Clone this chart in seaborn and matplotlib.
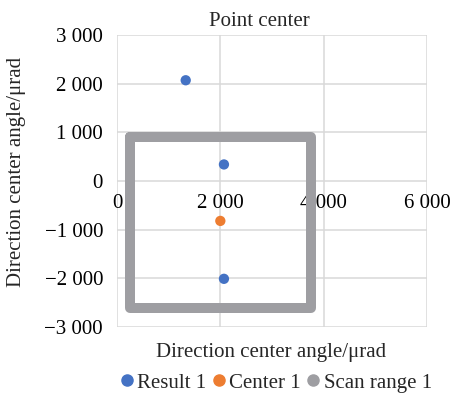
import matplotlib
matplotlib.use("Agg")
import matplotlib.pyplot as plt
import seaborn as sns
import pandas as pd
from matplotlib.lines import Line2D

# ---- data ----
result_x = [1330, 2070, 2070]
result_y = [2070, 340, -2010]
center_x = [2000]
center_y = [-820]
scan_x = [250, 3750, 3750, 250, 250]
scan_y = [900, 900, -2600, -2600, 900]
x_ticks = [0, 2000, 4000, 6000]
x_labels = ["0", "2 000", "4 000", "6 000"]
y_ticks = [3000, 2000, 1000, 0, -1000, -2000, -3000]
y_labels = ["3 000", "2 000", "1 000", "0", "\u22121 000", "\u22122 000", "\u22123 000"]

sns.set_theme(style="white")
plt.rcParams['font.family'] = ['Liberation Serif', 'DejaVu Serif']

c_blue = "#4472C4"
c_orange = "#ED7D31"
c_gray = "#9E9EA2"
FS = 15

fig = plt.figure(figsize=(4.52, 3.96), dpi=100)
ax = fig.add_axes([117/452, 1-327/396, 310/452, 292/396])

scan_df = pd.DataFrame({"x": scan_x, "y": scan_y})
sns.lineplot(data=scan_df, x="x", y="y", sort=False, estimator=None, ax=ax,
             color=c_gray, linewidth=7.2, solid_joinstyle="round",
             solid_capstyle="round", zorder=2)
sns.scatterplot(x=result_x, y=result_y, ax=ax, color=c_blue, s=55,
                edgecolor="none", zorder=3)
sns.scatterplot(x=center_x, y=center_y, ax=ax, color=c_orange, s=55,
                edgecolor="none", zorder=3)

ax.set_xlim(0, 6000)
ax.set_ylim(-3000, 3000)
ax.set_xticks(x_ticks)
ax.set_xticklabels(x_labels)
ax.set_yticks(y_ticks)
ax.set_yticklabels(y_labels)
ax.grid(True, color="#D9D9D9", linewidth=1.1)
ax.set_axisbelow(True)
for s in ["top", "right", "left"]:
    ax.spines[s].set_visible(False)
ax.spines["bottom"].set_position(("data", 0))
ax.spines["bottom"].set_visible(False)
ax.tick_params(axis="x", length=0, pad=9, labelsize=FS, colors="black")
ax.tick_params(axis="y", length=0, pad=10, labelsize=FS, colors="black")
ax.set_xlabel("")
ax.set_ylabel("")

fig.text(259/452, 1-21/396, "Point center", ha="center", va="center", fontsize=FS)
fig.text(17/452, 1-172/396, "Direction center angle/μrad", ha="center", va="center",
         rotation=90, fontsize=FS)
fig.text(271/452, 1-353/396, "Direction center angle/μrad", ha="center", va="center",
         fontsize=FS)

handles = [Line2D([], [], marker="o", linestyle="none", color=c, markersize=8)
           for c in [c_blue, c_orange, c_gray]]
fig.legend(handles, ["Result 1", "Center 1", "Scan range 1"], loc="center",
           bbox_to_anchor=(274/452, 1-383/396), ncol=3, frameon=False,
           fontsize=FS, handletextpad=0.0, columnspacing=0.1, handlelength=1.0,
           borderaxespad=0, borderpad=0)

fig.savefig("out.png", dpi=100)
